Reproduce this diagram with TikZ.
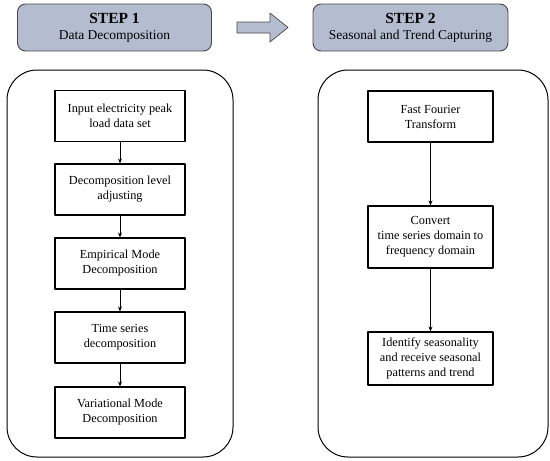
\documentclass[tikz,border=0pt]{standalone}
\usepackage{fontspec}
\setmainfont{Liberation Serif}
\usetikzlibrary{arrows.meta}
\definecolor{headfill}{RGB}{180,189,208}
\definecolor{headline}{RGB}{70,70,70}
\newcommand{\steptitle}[1]{{\fontsize{15.5}{18}\selectfont\textbf{#1}}}
\tikzset{
  headbox/.style={draw=headline,fill=headfill,line width=0.9pt,rounded corners=8pt,
    minimum width=194pt,minimum height=47pt,align=center,inner sep=0pt,font=\fontsize{13.5}{16}\selectfont},
  panel/.style={draw,line width=1pt,rounded corners=30pt,minimum width=#1,minimum height=387pt,inner sep=0pt},
  stepbox/.style={draw,line width=1.1pt,minimum width=#1,minimum height=51pt,align=center,inner sep=0pt,
    font=\fontsize{12.3}{15}\selectfont},
  flow/.style={-{Stealth[length=5pt,width=4pt]},line width=0.7pt}
}
\begin{document}
\begin{tikzpicture}[x=1pt,y=-1pt,line join=round]
  \useasboundingbox (0,0) rectangle (550,461);
  % headers
  \node[headbox] (head1) at (114.5,27.5) {\steptitle{STEP 1}\\Data Decomposition};
  \node[headbox,minimum width=195pt] (head2) at (410.5,27.5) {\steptitle{STEP 2}\\Seasonal and Trend Capturing};
  \draw[draw=headline,fill=headfill,line width=0.7pt] (237,22) -- (270,22) -- (270,13) -- (288,27.5)
    -- (270,42) -- (270,33) -- (237,33) -- cycle;
  % panels
  \node[panel=226pt] (left) at (120,263.5) {};
  \node[panel=230pt] (right) at (433,263.5) {};
  % step 1
  \node[stepbox=130pt] (input) at (120,116) {Input electricity peak\\load data set};
  \node[stepbox=130pt] (level) at (120,189.5) {Decomposition level\\adjusting};
  \node[stepbox=130pt] (emd) at (120,263.5) {Empirical Mode\\Decomposition};
  \node[stepbox=130pt] (tsd) at (120,337.5) {Time series\\decomposition};
  \node[stepbox=130pt] (vmd) at (120,412.5) {Variational Mode\\Decomposition};
  \draw[flow] (input) -- (level);
  \draw[flow] (level) -- (emd);
  \draw[flow] (emd) -- (tsd);
  \draw[flow] (tsd) -- (vmd);
  % step 2
  \node[stepbox=125pt] (fft) at (430.5,116.5) {Fast Fourier\\Transform};
  \node[stepbox=125pt,minimum height=62pt] (conv) at (430.5,237) {Convert\\time series domain to\\frequency domain};
  \node[stepbox=125pt,minimum height=53pt] (ident) at (430.5,358.5) {Identify seasonality\\and receive seasonal\\patterns and trend};
  \draw[flow] (fft) -- (conv);
  \draw[flow] (conv) -- (ident);
\end{tikzpicture}
\end{document}
